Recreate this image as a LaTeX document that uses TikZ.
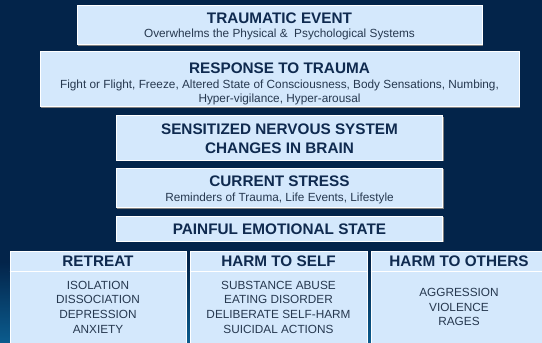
\documentclass[tikz,border=0pt]{standalone}
\usepackage{fontspec}
\setmainfont{Liberation Sans}
\usepackage{tikz}
\usetikzlibrary{shadows}
\definecolor{navy}{HTML}{03244A}
\definecolor{glow}{HTML}{0B5C8E}
\definecolor{boxfill}{HTML}{D4E8FC}
\definecolor{headcol}{HTML}{0F2A4F}
\definecolor{subcol}{HTML}{26384F}

\begin{document}
\begin{tikzpicture}[x=1pt,y=-1pt,
  box/.style={draw=white, line width=1pt, fill=boxfill, inner sep=0pt,
    drop shadow={shadow xshift=1pt, shadow yshift=-1pt, fill=gray, opacity=1}},
  head/.style={anchor=base, inner sep=0pt, text=headcol, font=\fontsize{15.3}{18}\selectfont\bfseries},
  sub/.style={anchor=base, inner sep=0pt, text=subcol, font=\fontsize{11.8}{14}\selectfont}]
\useasboundingbox (0,0) rectangle (542,343);
\fill[navy] (0,0) rectangle (542,343);
\shade[top color=navy, bottom color=glow] (0,262) rectangle (542,343);

\node[box, minimum width=405, minimum height=39.5] (event) at (279.7,24.9) {};
\node[box, minimum width=479, minimum height=55] (response) at (279.5,79.2) {};
\node[box, minimum width=326.5, minimum height=44.3] (nervous) at (279.7,137.9) {};
\node[box, minimum width=326.5, minimum height=39.4] (stress) at (279.7,188) {};
\node[box, minimum width=326, minimum height=25] (painful) at (279.5,228.5) {};
\node[box, minimum width=176, minimum height=94] (retreat) at (98,298) {};
\node[box, minimum width=177, minimum height=94] (self) at (278.5,298) {};
\node[box, minimum width=176, minimum height=94] (others) at (459,298) {};
\draw[white, line width=1pt] (retreat.north west) ++(0,21) -- ++(176,0);
\draw[white, line width=1pt] (self.north west) ++(0,21) -- ++(177,0);
\draw[white, line width=1pt] (others.north west) ++(0,21) -- ++(176,0);

\node[head] (eventhead) at (279.5,23) {TRAUMATIC EVENT};
\node[sub] (eventsub) at (279.5,37.5) {Overwhelms the Physical \& \ Psychological Systems};
\node[head] (responsehead) at (279.5,73.5) {RESPONSE TO TRAUMA};
\node[sub] (responsesub1) at (279.5,88) {Fight or Flight, Freeze, Altered State of Consciousness, Body Sensations, Numbing,};
\node[sub] (responsesub2) at (279.5,102) {Hyper-vigilance, Hyper-arousal};
\node[head] (nervoushead1) at (279.5,134) {SENSITIZED NERVOUS SYSTEM};
\node[head] (nervoushead2) at (279.5,153) {CHANGES IN BRAIN};
\node[head] (stresshead) at (279.5,186) {CURRENT STRESS};
\node[sub] (stresssub) at (279.5,201.5) {Reminders of Trauma, Life Events, Lifestyle};
\node[head] (painfulhead) at (279.5,234) {PAINFUL EMOTIONAL STATE};

\node[head] (retreathead) at (98,266.5) {RETREAT};
\node[head] (selfhead) at (278.5,266.5) {HARM TO SELF};
\node[head] (othershead) at (459,266.5) {HARM TO OTHERS};
\foreach \s [count=\i from 0] in {ISOLATION,DISSOCIATION,DEPRESSION,ANXIETY}
  \node[sub] (retreat\i) at (98,289+14.8*\i) {\s};
\foreach \s [count=\i from 0] in {SUBSTANCE ABUSE,EATING DISORDER,DELIBERATE SELF-HARM,SUICIDAL ACTIONS}
  \node[sub] (self\i) at (278.5,289+14.8*\i) {\s};
\foreach \s [count=\i from 0] in {AGGRESSION,VIOLENCE,RAGES}
  \node[sub] (others\i) at (459,296.7+14.5*\i) {\s};
\end{tikzpicture}
\end{document}
